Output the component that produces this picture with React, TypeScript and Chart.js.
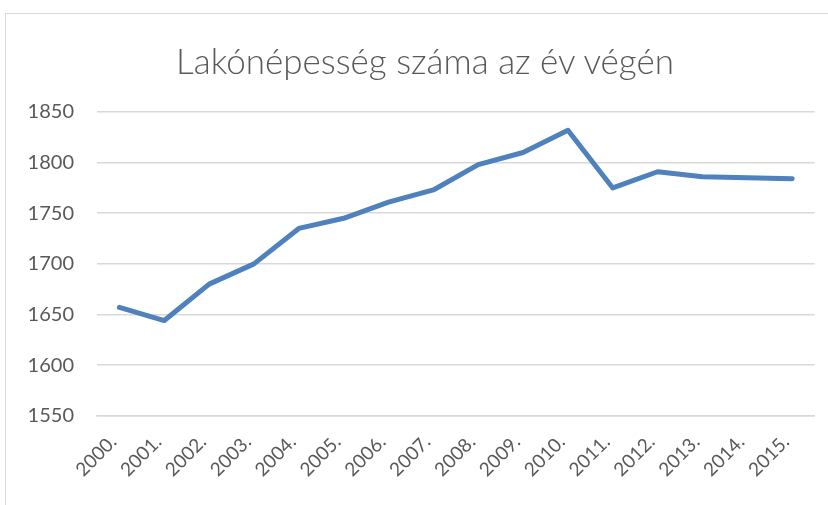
import React, { useEffect, useRef } from "react";
import { Chart, registerables } from "chart.js";

Chart.register(...registerables);

const titleText = "Lakónépesség száma az év végén";
const categories = [
  "2000.", "2001.", "2002.", "2003.", "2004.", "2005.", "2006.", "2007.",
  "2008.", "2009.", "2010.", "2011.", "2012.", "2013.", "2014.", "2015.",
];
const population = [
  1657, 1644, 1680, 1700, 1735, 1745, 1761, 1773,
  1798, 1810, 1832, 1775, 1791, 1786, 1785, 1784,
];
const yMin = 1550;
const yMax = 1850;
const yStep = 50;

const FONT = "Lato, 'Open Sans', sans-serif";
const TEXT = "#595959";
const GRID = "#d9d9d9";
const LINE = "#4f81bd";

export default function App() {
  const ref = useRef<HTMLCanvasElement | null>(null);

  useEffect(() => {
    if (!ref.current) return;
    const chart = new Chart(ref.current, {
      type: "line",
      data: {
        labels: categories,
        datasets: [
          {
            data: population,
            borderColor: LINE,
            backgroundColor: LINE,
            borderWidth: 5,
            pointRadius: 0,
            tension: 0,
            borderCapStyle: "round",
            borderJoinStyle: "round",
          },
        ],
      },
      options: {
        animation: false,
        responsive: false,
        maintainAspectRatio: false,
        layout: { padding: { top: 98, left: 0, right: 40.4, bottom: 0 } },
        plugins: {
          legend: { display: false },
          tooltip: { enabled: false },
          title: { display: false },
        },
        scales: {
          x: {
            offset: true,
            grid: { display: false, drawTicks: false },
            border: { display: true, color: GRID, width: 1.5 },
            ticks: {
              color: TEXT,
              font: { family: FONT, size: 19 },
              minRotation: 45,
              maxRotation: 45,
              padding: 15,
              labelOffset: -6,
              autoSkip: false,
            },
            afterFit: (s: any) => {
              s.height = 89.3;
            },
          },
          y: {
            min: yMin,
            max: yMax,
            grid: { color: GRID, lineWidth: 1.5, drawTicks: false },
            border: { display: false },
            ticks: {
              stepSize: yStep,
              color: TEXT,
              font: { family: FONT, size: 20 },
              padding: 23,
              callback: (v: any) => String(v),
            },
            afterFit: (s: any) => {
              s.width = 91;
            },
          },
        },
      },
    });
    return () => chart.destroy();
  }, []);

  return (
    <div
      style={{
        position: "fixed",
        left: 0,
        top: 0,
        width: 828,
        height: 505,
        overflow: "hidden",
        background: "#fff",
      }}
    >
      <div
        style={{
          position: "absolute",
          left: 5,
          top: 13,
          width: 850,
          height: 520,
          border: "1px solid #d9d9d9",
          boxSizing: "border-box",
        }}
      >
        <canvas ref={ref} width={849} height={491} style={{ display: "block" }} />
        <div
          style={{
            position: "absolute",
            left: 0,
            top: 26,
            width: 838,
            textAlign: "center",
            fontFamily: FONT,
            fontWeight: 300,
            fontSize: 35,
            lineHeight: "40px",
            color: TEXT,
            whiteSpace: "nowrap",
          }}
        >
          {titleText}
        </div>
      </div>
    </div>
  );
}
